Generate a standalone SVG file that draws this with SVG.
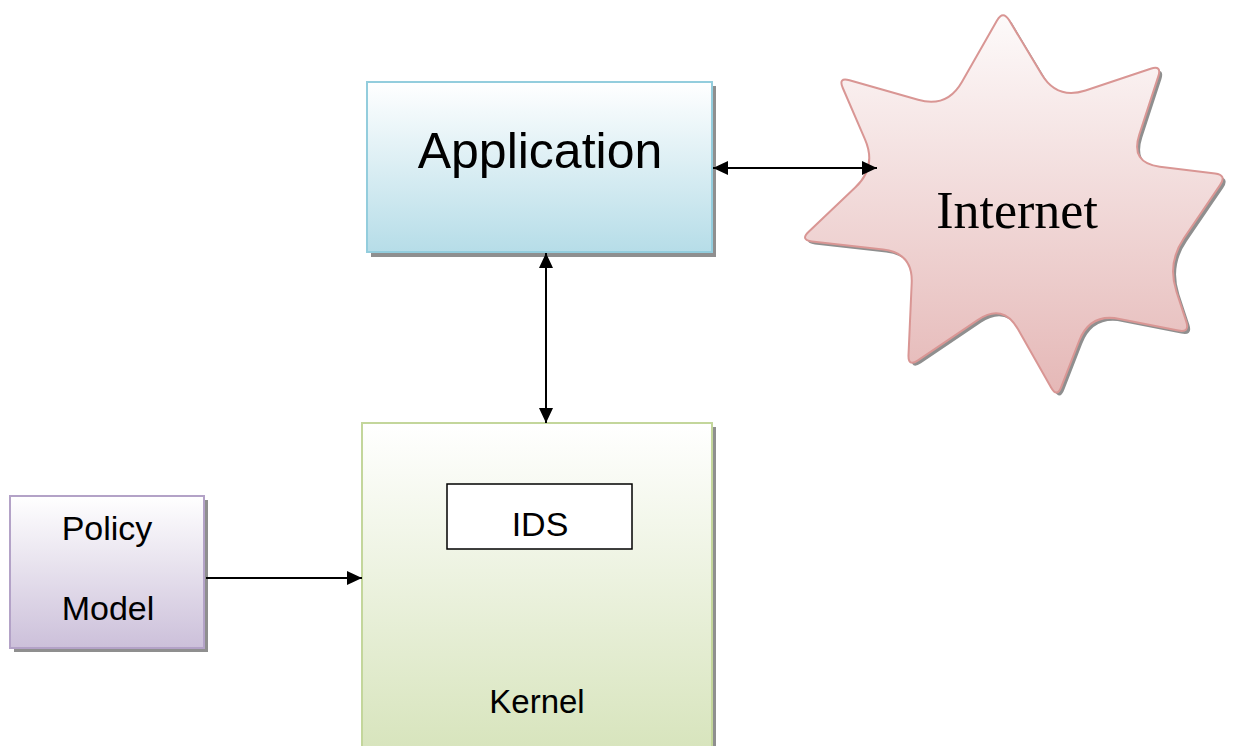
<svg xmlns="http://www.w3.org/2000/svg" width="1233" height="746" viewBox="0 0 1233 746">
<defs>
<linearGradient id="gApp" x1="0" y1="0" x2="0" y2="1"><stop offset="0" stop-color="#ffffff"/><stop offset="1" stop-color="#b6dde8"/></linearGradient>
<linearGradient id="gKer" x1="0" y1="0" x2="0" y2="1"><stop offset="0" stop-color="#ffffff"/><stop offset="1" stop-color="#d7e4bc"/></linearGradient>
<linearGradient id="gPol" x1="0" y1="0" x2="0" y2="1"><stop offset="0" stop-color="#ffffff"/><stop offset="1" stop-color="#ccc0da"/></linearGradient>
<linearGradient id="gNet" x1="0" y1="0" x2="0" y2="1"><stop offset="0" stop-color="#fdfafa"/><stop offset="1" stop-color="#e5b8b7"/></linearGradient>
<marker id="ah" viewBox="0 0 15 14" refX="15" refY="7" markerWidth="15" markerHeight="14" markerUnits="userSpaceOnUse" orient="auto-start-reverse"><path d="M0,0 L15,7 L0,14 Z" fill="#000"/></marker>
<path id="star" d="M 997.0,20.4 Q 1003,10 1009.2,20.3 L 1041.6,74.3 Q 1057,100 1085.5,90.5 L 1150.6,68.8 Q 1162,65 1158.3,76.4 L 1139.3,134.5 Q 1130,163 1159.8,166.7 L 1215.1,173.5 Q 1227,175 1220.2,184.9 L 1183.9,238.2 Q 1167,263 1176.4,291.5 L 1186.3,321.6 Q 1190,333 1178.2,330.6 L 1119.5,318.9 Q 1090,313 1079.1,341.0 L 1061.3,386.8 Q 1057,398 1051.1,387.6 L 1017.9,329.1 Q 1003,303 978.0,319.8 L 918.0,360.3 Q 908,367 908.5,355.0 L 911.7,283.0 Q 913,253 883.1,249.6 L 811.9,241.4 Q 800,240 808.7,231.7 L 855.2,187.6 Q 877,167 865.0,139.4 L 842.8,88.0 Q 838,77 849.5,80.3 L 918.1,99.8 Q 947,108 961.9,81.9 Z"/>
</defs>
<style>
.shadow{fill:#8f8f8f}
.sans{font-family:"Liberation Sans",Arial,sans-serif;fill:#000;text-anchor:middle}
.serif{font-family:"Liberation Serif","Times New Roman",serif;fill:#000;text-anchor:middle}
.conn{stroke:#000;stroke-width:2;fill:none}
</style>
<rect width="1233" height="746" fill="#ffffff"/>
<g id="application">
<rect class="shadow" x="371" y="86" width="345" height="171"/>
<rect x="367" y="82" width="345" height="170" fill="url(#gApp)" stroke="#93cddd" stroke-width="2"/>
<text class="sans" x="540" y="168" font-size="50">Application</text>
</g>
<g id="internet">
<use href="#star" class="shadow" transform="translate(3,3)"/>
<use href="#star" fill="url(#gNet)" stroke="#d99694" stroke-width="2"/>
<text class="serif" x="1017" y="228" font-size="52">Internet</text>
</g>
<g id="kernel">
<rect class="shadow" x="366" y="427" width="350" height="330"/>
<rect x="362" y="423" width="350" height="330" fill="url(#gKer)" stroke="#c3d69b" stroke-width="2"/>
<text class="sans" x="537" y="713" font-size="33">Kernel</text>
</g>
<g id="ids">
<rect x="447" y="484" width="185" height="65" fill="#ffffff" stroke="#000" stroke-width="1.5"/>
<text class="sans" x="540" y="536" font-size="34">IDS</text>
</g>
<g id="policy-model">
<rect class="shadow" x="14" y="500" width="194" height="152"/>
<rect x="10" y="496" width="194" height="152" fill="url(#gPol)" stroke="#b3a2c7" stroke-width="2"/>
<text class="sans" x="107" y="540" font-size="34">Policy</text>
<text class="sans" x="108" y="620" font-size="34">Model</text>
</g>
<g id="connectors">
<line class="conn" x1="713" y1="168" x2="877" y2="168" marker-start="url(#ah)" marker-end="url(#ah)"/>
<line class="conn" x1="546" y1="253" x2="546" y2="423" marker-start="url(#ah)" marker-end="url(#ah)"/>
<line class="conn" x1="206" y1="578" x2="362" y2="578" marker-end="url(#ah)"/>
</g>
</svg>
